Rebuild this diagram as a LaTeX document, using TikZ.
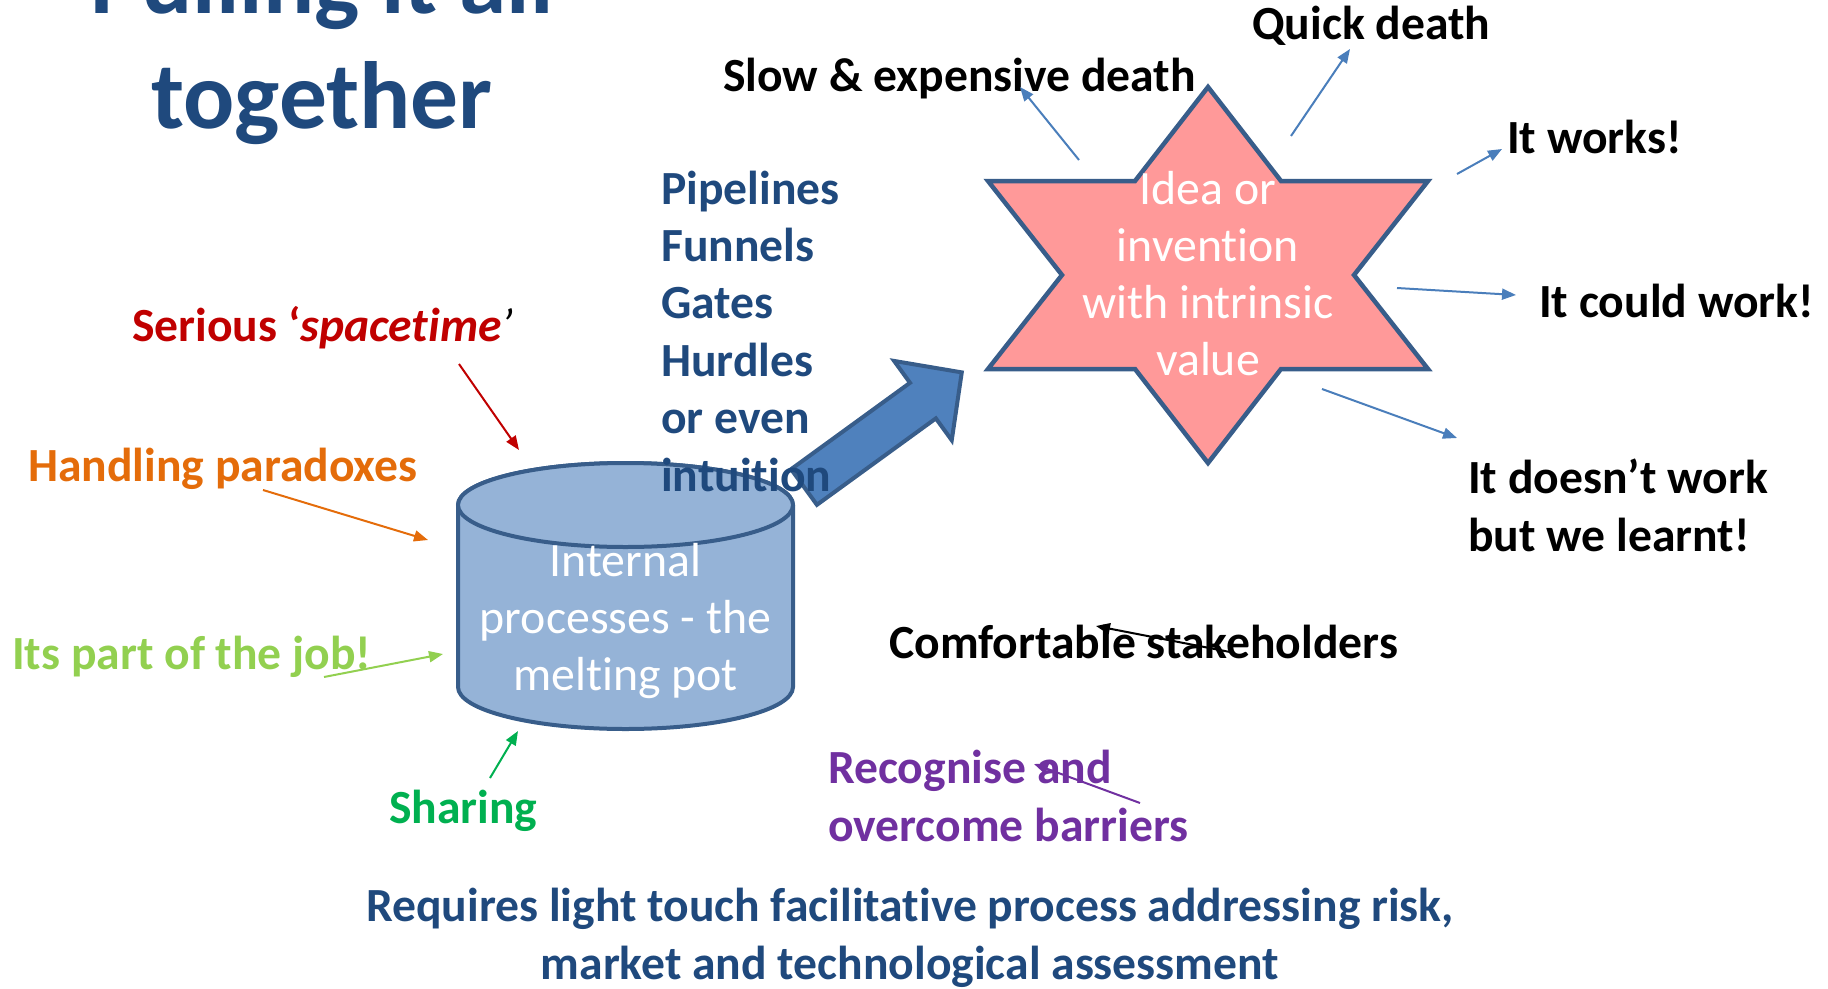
\documentclass[tikz,border=0pt]{standalone}
\usepackage{fontspec}
\setmainfont{Carlito}[Ligatures=NoCommon]
\usetikzlibrary{arrows.meta}

\newlength{\du}
\setlength{\du}{1pt}

\definecolor{titleblue}{RGB}{31,73,125}
\definecolor{shapeline}{RGB}{56,93,138}
\definecolor{starfill}{RGB}{255,153,153}
\definecolor{potfill}{RGB}{149,179,215}
\definecolor{flowfill}{RGB}{79,129,189}
\definecolor{linkblue}{RGB}{74,126,187}
\definecolor{seriousred}{RGB}{192,0,0}
\definecolor{paradoxorange}{RGB}{228,108,10}
\definecolor{jobgreen}{RGB}{146,208,80}
\definecolor{sharegreen}{RGB}{0,176,80}
\definecolor{barrierpurple}{RGB}{112,48,160}

\tikzset{
  lbl/.style={inner sep=0pt, anchor=base west, align=left,
    font=\fontsize{47.6}{57.4}\selectfont\bfseries},
  titletext/.style={inner sep=0pt, anchor=base, align=center, text=titleblue,
    font=\fontsize{95.5}{115}\selectfont\bfseries},
  shapetext/.style={inner sep=0pt, anchor=base, align=center, text=white,
    font=\fontsize{47.8}{57}\selectfont},
  starbox/.style={draw=shapeline, line width=4.5pt, fill=starfill, line join=miter},
  potbox/.style={draw=shapeline, line width=4pt, fill=potfill},
  flowbox/.style={draw=shapeline, line width=4pt, fill=flowfill, line join=miter},
  link/.style={line width=2pt, -{Triangle[length=14pt,width=11pt]}},
}

\begin{document}
\begin{tikzpicture}[x=\du,y=-\du]
\useasboundingbox (0,0) rectangle (1828,988);
\clip (0,0) rectangle (1828,988);

% title, cut at the top (base = last line)
\node[titletext] (title) at (322,128) {Pulling it all\\together};

% the idea star
\draw[starbox] (1208,87) -- (1281,181) -- (1428,181) -- (1354,275) -- (1428,369)
  -- (1281,369) -- (1208,463) -- (1135,369) -- (988,369) -- (1062,275)
  -- (988,181) -- (1135,181) -- cycle;
\node[shapetext] (idea) at (1208,375) {Idea or\\invention\\with intrinsic\\value};

% the melting pot
\draw[potbox] (458,505) -- (458,687) arc[start angle=180,end angle=0,x radius=167.5,y radius=42]
  -- (793,505) arc[start angle=0,end angle=-180,x radius=167.5,y radius=42] -- cycle;
\draw[potbox] (625.5,505) ellipse[x radius=167.5,y radius=42];
\node[shapetext] (pot) at (625.5,690) {Internal\\processes - the\\melting pot};

% block arrow pot -> star
\begin{scope}[shift={(804,487)}, rotate=36]
\draw[flowbox] (0,-22) -- (147,-22) -- (147,-49) -- (195,0) -- (147,49) -- (147,22) -- (0,22) -- cycle;
\end{scope}

% outcomes
\node[lbl] (quick) at (1252,39) {Quick death};
\node[lbl] (slow) at (723,91) {Slow \& expensive death};
\node[lbl] (works) at (1507,153) {It works!};
\node[lbl] (could) at (1539,317) {It could work!};
\node[lbl] (learnt) at (1468,551) {It doesn’t work\\but we learnt!};
\node[lbl] (comfort) at (889,658) {Comfortable stakeholders};
\node[lbl, text=barrierpurple] (barriers) at (828,841) {Recognise and\\overcome barriers};
\node[lbl, anchor=base, align=center, text=titleblue] (requires) at (910,979)
  {Requires light touch facilitative process addressing risk,\\market and technological assessment};
\node[lbl, text=titleblue] (gates) at (661,491) {Pipelines\\Funnels\\Gates\\Hurdles\\or even\\intuition};

% inputs to the pot
\node[lbl, text=seriousred] (serious) at (132,341)
  {Serious ‘\textit{spacetime}\textcolor{black}{\mdseries\itshape ’}};
\node[lbl, text=paradoxorange] (paradox) at (28,481) {Handling paradoxes};
\node[lbl, text=jobgreen] (job) at (12,669) {Its part of the job!};
\node[lbl, text=sharegreen] (sharing) at (389,823) {Sharing};

% connector ends
\coordinate (slowfrom) at (1079,160);   \coordinate (slowto) at (1020,87);
\coordinate (quickfrom) at (1291,136);  \coordinate (quickto) at (1350,49);
\coordinate (worksfrom) at (1457,174);  \coordinate (worksto) at (1502,149);
\coordinate (couldfrom) at (1397,288);  \coordinate (couldto) at (1516,295);
\coordinate (learntfrom) at (1322,389); \coordinate (learntto) at (1457,438);
\coordinate (comfortfrom) at (1230,652); \coordinate (comfortto) at (1096,626);
\coordinate (barrierfrom) at (1140,803); \coordinate (barrierto) at (1034,764);
\coordinate (seriousfrom) at (459,364); \coordinate (seriousto) at (519,450);
\coordinate (paradoxfrom) at (263,490); \coordinate (paradoxto) at (428,540);
\coordinate (jobfrom) at (324,677);     \coordinate (jobto) at (443,654);
\coordinate (sharingfrom) at (490,778); \coordinate (sharingto) at (518,731);

\draw[link, draw=linkblue] (slowfrom) -- (slowto);
\draw[link, draw=linkblue] (quickfrom) -- (quickto);
\draw[link, draw=linkblue] (worksfrom) -- (worksto);
\draw[link, draw=linkblue] (couldfrom) -- (couldto);
\draw[link, draw=linkblue] (learntfrom) -- (learntto);
\draw[link, draw=black] (comfortfrom) -- (comfortto);
\draw[link, draw=barrierpurple] (barrierfrom) -- (barrierto);
\draw[link, draw=seriousred] (seriousfrom) -- (seriousto);
\draw[link, draw=paradoxorange] (paradoxfrom) -- (paradoxto);
\draw[link, draw=jobgreen] (jobfrom) -- (jobto);
\draw[link, draw=sharegreen] (sharingfrom) -- (sharingto);
\end{tikzpicture}
\end{document}
